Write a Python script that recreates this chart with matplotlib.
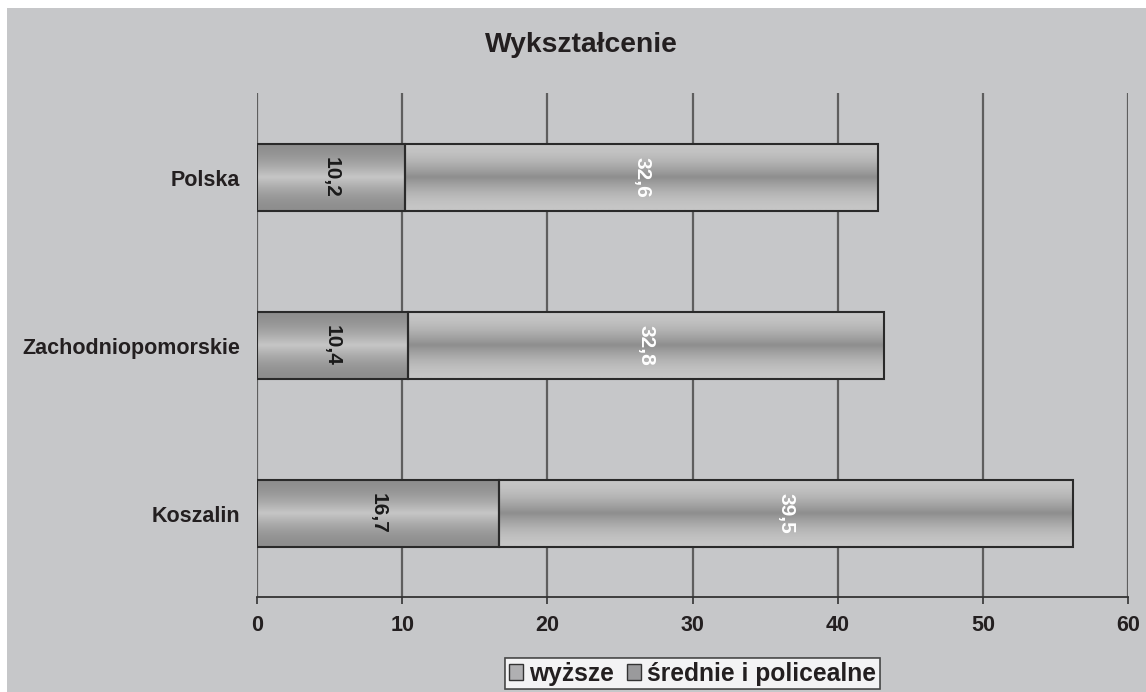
import numpy as np
import matplotlib
matplotlib.use("Agg")
import matplotlib.pyplot as plt
from matplotlib.patches import Rectangle, Patch
from matplotlib.colors import LinearSegmentedColormap

categories = ["Koszalin", "Zachodniopomorskie", "Polska"]
wyzsze = [16.7, 10.4, 10.2]
srednie = [39.5, 32.8, 32.6]
series_names = ["wyższe", "średnie i policealne"]
xticks = [0, 10, 20, 30, 40, 50, 60]

plt.rcParams['font.family'] = ['Liberation Sans', 'DejaVu Sans']
BG = "#c6c7c9"
TXT = "#231f20"

fig = plt.figure(figsize=(11.46, 6.92), dpi=100, facecolor="white")
fig.patches.append(Rectangle((7 / 1146, 0), 1, 1 - 8 / 692, transform=fig.transFigure,
                             facecolor=BG, edgecolor="none", zorder=-10))

ax = fig.add_axes([257 / 1146, 1 - 597 / 692, 871 / 1146, 504 / 692])
ax.patch.set_alpha(0)

for s in ["top", "left", "right"]:
    ax.spines[s].set_visible(False)
ax.spines["bottom"].set_color("#333333")
ax.spines["bottom"].set_linewidth(1.3)

ax.set_xticks(xticks)
ax.set_xticklabels([str(t) for t in xticks], fontsize=15.5, fontweight="bold", color=TXT)
ax.tick_params(axis="x", length=5, width=1.2, color="#333333", pad=8)
ax.set_yticks(range(len(categories)))
ax.set_yticklabels(categories, fontsize=15.5, fontweight="bold", color=TXT)
ax.tick_params(axis="y", length=0, pad=12)

ax.xaxis.grid(True, color="#5e5e5e", linewidth=1.6)
ax.set_axisbelow(True)

# gradients
n = 256
t = np.linspace(0, 1, n)
prof = np.abs(np.cos(np.pi * t))  # 1 at edges, 0 at middle
light, dark = 0xc6 / 255, 0x8e / 255
g1 = dark + (light - dark) * (1 - prof)   # dark edges, light middle
g2 = dark + (light - dark) * prof         # light edges, dark middle
graymap = LinearSegmentedColormap.from_list("g", [(0, 0, 0), (1, 1, 1)])

h = 0.40
bars1 = ax.barh(range(len(categories)), wyzsze, height=h, color="none",
                edgecolor="#2a2a2a", linewidth=1.5, zorder=3)
bars2 = ax.barh(range(len(categories)), srednie, left=wyzsze, height=h, color="none",
                edgecolor="#2a2a2a", linewidth=1.5, zorder=3)

for bars, g in ((bars1, g1), (bars2, g2)):
    for b in bars:
        x0, y0 = b.get_x(), b.get_y()
        w, hh = b.get_width(), b.get_height()
        im = ax.imshow(g.reshape(-1, 1), cmap=graymap, vmin=0, vmax=1, aspect="auto",
                       extent=(x0, x0 + w, y0, y0 + hh), origin="lower", zorder=2,
                       interpolation="bilinear")
        im.set_clip_path(b)
ax.set_xlim(0, 60)
ax.set_ylim(-0.497, 2.503)

for i in range(len(categories)):
    ax.text(wyzsze[i] / 2, i, f"{wyzsze[i]:.1f}".replace(".", ","), rotation=270,
            ha="center", va="center", fontsize=15, fontweight="bold", color="#1a1a1a", zorder=4)
    ax.text(wyzsze[i] + srednie[i] / 2, i, f"{srednie[i]:.1f}".replace(".", ","), rotation=270,
            ha="center", va="center", fontsize=15, fontweight="bold", color="white", zorder=4)

fig.text(581 / 1146, 1 - 45 / 692, "Wykształcenie", ha="center", va="center",
         fontsize=20.3, fontweight="bold", color=TXT)

# legend
handles = [Patch(facecolor="#b0b0b2", edgecolor="#333333"),
           Patch(facecolor="#9a9a9c", edgecolor="#333333")]
leg = fig.legend(handles, series_names, loc="upper center", bbox_to_anchor=(692.5 / 1146, 1 - 658 / 692),
                 ncol=2, frameon=True, fancybox=False,
                 prop={"weight": "bold", "size": 17.7}, handlelength=0.6, handleheight=0.6,
                 handletextpad=0.25, columnspacing=0.5, borderpad=0.15, borderaxespad=0)
leg.get_frame().set_edgecolor("#222222")
leg.get_frame().set_linewidth(1.2)
leg.get_frame().set_facecolor("white")
for txt in leg.get_texts():
    txt.set_color(TXT)

fig.savefig("out.png", dpi=100, facecolor=fig.get_facecolor())
